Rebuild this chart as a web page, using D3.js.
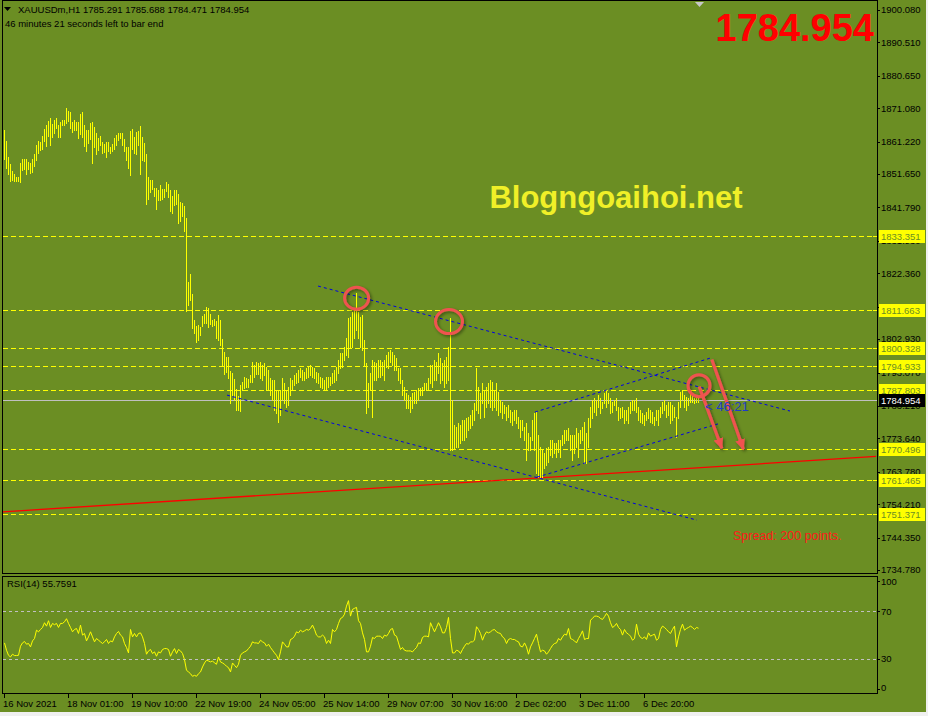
<!DOCTYPE html>
<html><head><meta charset="utf-8">
<script src="https://cdn.jsdelivr.net/npm/d3@7"></script>
<style>body{margin:0;background:#fff;overflow:hidden}svg{display:block}</style>
</head><body><svg id="c" width="928" height="716"></svg>
<script>
// ---------------- DATA ----------------
const highs = [
1864.7,1861.4,1856.7,1854.6,1852.6,1851.7,1850.8,1850.8,1854.9,1856.1,
1856.1,1856.1,1855.2,1854.9,1856.1,1857.5,1860.2,1861.4,1861.1,1862.9,
1864.9,1866.1,1867.3,1868.2,1866.4,1867.6,1868.2,1866.1,1867.0,1867.6,
1867.6,1871.1,1870.3,1870.0,1867.0,1867.6,1867.0,1867.0,1869.4,1870.0,
1866.1,1864.7,1864.7,1866.7,1867.0,1865.6,1863.8,1862.3,1862.9,1861.1,
1860.5,1861.1,1861.1,1859.7,1860.5,1862.3,1863.2,1863.8,1863.8,1863.8,
1862.0,1859.7,1859.7,1864.4,1865.0,1862.6,1864.1,1864.4,1865.9,1862.6,
1860.8,1857.6,1850.8,1849.9,1849.9,1847.6,1847.6,1847.0,1848.5,1847.3,
1847.3,1849.3,1848.7,1847.0,1845.2,1847.0,1847.0,1845.8,1843.4,1843.1,
1842.2,1838.7,1819.8,1822.2,1816.3,1808.6,1806.8,1807.1,1806.5,1809.8,
1810.4,1812.4,1812.1,1810.4,1808.6,1808.9,1808.3,1810.1,1808.6,1803.0,
1799.1,1797.7,1797.7,1793.5,1792.9,1791.2,1788.2,1786.2,1789.4,1790.3,
1791.8,1791.5,1791.2,1792.4,1796.2,1795.3,1796.2,1795.9,1796.2,1795.3,
1795.9,1794.7,1793.8,1791.5,1790.9,1790.9,1787.9,1787.9,1787.9,1791.5,
1790.0,1787.9,1788.8,1791.5,1790.9,1792.4,1792.9,1793.8,1794.4,1793.8,
1793.2,1794.4,1794.7,1795.3,1794.7,1794.4,1793.2,1792.9,1791.8,1791.5,
1790.9,1791.8,1791.8,1791.8,1792.9,1793.8,1794.7,1796.8,1798.8,1798.8,
1800.6,1803.3,1809.2,1809.5,1810.9,1812.1,1816.6,1810.9,1809.5,1810.1,
1802.7,1795.9,1790.0,1792.9,1796.8,1796.2,1795.9,1796.8,1796.8,1796.2,
1796.8,1798.3,1799.1,1799.7,1799.1,1798.3,1797.4,1794.4,1794.4,1790.9,
1788.8,1787.0,1786.5,1785.9,1787.0,1787.3,1787.9,1788.5,1788.5,1788.8,
1790.0,1790.0,1791.5,1795.3,1795.3,1796.8,1796.2,1798.8,1797.4,1795.9,
1796.8,1797.7,1800.6,1809.2,1785.0,1777.6,1777.0,1778.2,1777.6,1779.1,
1779.1,1779.7,1780.0,1780.6,1782.0,1784.1,1794.4,1788.8,1787.0,1790.0,
1787.9,1788.8,1790.0,1790.9,1790.3,1787.9,1790.0,1787.3,1785.0,1784.4,
1783.5,1782.9,1783.5,1782.0,1781.4,1782.0,1782.0,1780.0,1779.1,1779.1,
1777.0,1778.2,1775.2,1774.1,1779.1,1781.1,1781.4,1774.7,1771.1,1770.2,
1769.3,1770.8,1771.1,1773.2,1773.2,1772.3,1772.3,1773.2,1773.2,1774.7,
1776.1,1776.1,1776.7,1774.7,1774.7,1774.7,1776.7,1775.2,1776.1,1777.0,
1778.5,1775.2,1779.7,1782.9,1785.0,1785.6,1785.0,1786.5,1785.6,1784.4,
1787.0,1787.9,1787.0,1785.6,1784.4,1785.0,1785.6,1782.9,1782.6,1782.9,
1782.0,1782.0,1782.9,1784.4,1785.0,1785.0,1785.6,1782.9,1782.0,1781.1,
1780.6,1781.4,1782.6,1782.0,1781.4,1780.0,1782.0,1782.0,1782.9,1784.4,
1785.0,1783.5,1784.4,1784.4,1783.5,1782.9,1780.0,1784.4,1787.3,1787.9,
1786.5,1785.9,1785.6,1787.0,1786.5,1785.6,1785.9,1785.688
];
const lows = [
1856.1,1853.4,1851.7,1849.6,1849.9,1849.6,1849.6,1849.6,1849.3,1852.9,
1853.2,1851.7,1853.2,1852.0,1852.3,1854.0,1855.8,1857.9,1858.8,1859.1,
1861.4,1859.9,1862.9,1860.2,1862.6,1863.8,1865.2,1862.6,1862.6,1866.1,
1866.1,1866.7,1867.3,1865.2,1864.1,1864.7,1864.7,1862.3,1863.5,1862.6,
1859.9,1858.5,1860.8,1862.0,1854.9,1859.7,1857.6,1858.8,1860.2,1857.9,
1858.2,1856.7,1858.5,1857.9,1858.5,1859.1,1860.2,1861.7,1862.3,1860.2,
1858.5,1855.8,1853.4,1851.4,1859.1,1857.9,1857.6,1860.2,1851.7,1855.8,
1855.5,1842.8,1844.3,1846.4,1847.3,1845.2,1841.4,1844.0,1844.0,1844.3,
1844.9,1846.7,1844.9,1840.8,1840.2,1842.5,1842.8,1837.2,1837.8,1839.3,
1834.9,1811.2,1813.0,1814.5,1806.2,1804.7,1802.1,1802.7,1804.2,1806.8,
1807.7,1807.7,1806.5,1807.4,1806.8,1807.1,1803.3,1802.7,1801.2,1795.3,
1792.6,1793.2,1791.5,1784.1,1786.5,1785.0,1782.0,1782.0,1781.7,1787.9,
1788.5,1788.8,1788.8,1790.3,1790.3,1791.8,1792.6,1792.6,1791.5,1790.9,
1792.4,1787.9,1787.9,1786.5,1785.0,1782.0,1781.1,1778.5,1780.6,1785.0,
1784.1,1782.9,1783.5,1786.5,1787.9,1789.4,1790.0,1790.3,1791.8,1790.9,
1790.9,1791.5,1791.8,1792.4,1791.8,1791.5,1790.3,1790.0,1788.8,1788.5,
1787.9,1787.9,1788.8,1789.4,1790.0,1790.3,1790.9,1792.9,1794.4,1794.7,
1796.8,1798.3,1797.7,1800.6,1800.6,1803.3,1805.6,1803.3,1800.6,1799.7,
1795.3,1781.1,1782.9,1787.9,1780.0,1790.9,1790.9,1791.8,1791.8,1792.4,
1790.9,1794.7,1794.4,1796.2,1795.3,1793.8,1793.8,1790.9,1790.0,1786.5,
1785.0,1782.6,1782.6,1781.4,1782.6,1784.1,1784.1,1785.0,1786.5,1786.5,
1787.9,1787.9,1787.9,1790.0,1788.8,1790.9,1790.9,1792.9,1790.0,1790.9,
1788.8,1790.0,1790.9,1770.2,1770.2,1770.8,1771.1,1771.1,1772.3,1773.2,
1773.2,1774.1,1776.1,1776.7,1777.6,1779.1,1782.0,1781.1,1779.7,1784.1,
1780.0,1782.9,1784.1,1782.9,1782.0,1782.9,1782.0,1780.6,1781.4,1779.7,
1781.1,1779.1,1780.0,1778.5,1777.6,1779.1,1778.2,1776.7,1774.1,1776.1,
1773.2,1767.3,1770.2,1770.2,1773.2,1770.2,1763.4,1762.3,1762.0,1762.3,
1764.9,1765.8,1766.7,1768.7,1768.2,1769.3,1768.2,1769.6,1768.2,1771.7,
1772.3,1773.2,1773.2,1770.2,1767.3,1769.3,1771.1,1768.2,1772.3,1773.2,
1766.4,1766.4,1771.1,1777.0,1779.7,1781.4,1780.6,1782.9,1781.1,1782.6,
1784.1,1782.9,1784.1,1781.1,1781.4,1783.5,1782.0,1779.1,1779.7,1780.0,
1778.2,1779.1,1778.2,1781.1,1782.0,1782.0,1781.4,1779.1,1778.5,1778.2,
1777.6,1779.1,1779.7,1778.5,1778.2,1777.6,1779.1,1777.6,1780.0,1781.1,
1782.0,1780.0,1780.6,1778.2,1779.1,1780.0,1774.1,1779.7,1782.9,1785.0,
1782.9,1782.0,1783.5,1784.4,1784.4,1784.1,1784.4,1784.471
];
const rsi = [
43.3,37.1,32.8,31.4,33.7,32.6,32.6,32.8,40.5,43.3,
44.5,42.2,42.8,39.9,45,47,54.1,52.7,54.7,56.4,
60.4,57.5,62.1,56.4,59.8,58.7,59.8,56.4,59.8,59.8,
61.2,63.8,59.8,56.4,52.7,54.7,55.5,51.3,58.4,49.9,
51.3,45,48.4,52.7,48.4,44.2,47,45.6,44.2,42.8,
44.2,46.2,42.8,45,44.2,48.4,51.3,53,49.9,48.4,
42.8,39.4,34.8,54.7,48.4,51.3,48.4,51.3,51.8,48.4,
42.8,33.7,36.5,37.7,34.3,35.7,32,35.7,34.8,37.7,
38.5,38.5,37.7,32,35.7,38.5,34.3,37.7,36.5,34.3,
29.1,20.1,18.7,17.2,15,15.8,15,17.2,18.7,22.9,
26.3,28.6,28,27.2,28,26.3,25.2,31.4,27.2,26.3,
25.2,23.5,22.3,18.7,26.3,24.3,
22.3,25.2,32.8,34.8,35.7,36.5,38.5,40.5,44.2,43.3,
43.3,42.8,45.6,44.2,43.3,40.5,42.2,39.4,37.1,34.8,
32.8,29.1,35.7,44.2,42.2,39.9,39.9,46.2,47,49,
52.7,51.8,54.1,52.7,53.5,54.7,54.1,55.5,58.4,54.7,
49.9,48.4,48.4,49.9,48.4,42.8,45.6,42.8,54.7,52.7,
54.7,59.8,64,64.9,67.7,74.5,79.1,66,71.7,72.6,
73.4,62.1,59.8,51.8,46.2,35.7,35.7,40.5,47.9,47,
49,49,49,47,49.9,49,51.3,54.7,55.5,49.9,
49,43.3,37.7,39.4,37.1,36.5,36.5,36.5,35.7,37.7,
39.4,43.3,42.8,47.9,49,49,48.4,60.4,56.4,52.7,
56.4,60.4,57,51.8,51.8,56.4,64.9,47,34.8,34.8,
37.1,36.5,34.3,37.7,40.5,
42.8,42.2,44.2,44.2,45.6,57,54.7,51.3,45.6,49.9,
52.7,51.8,52.7,54.1,54.7,52.7,51.8,51.3,48.4,47,
42.8,46.2,47,46.2,46.2,45,44.2,40.5,39.9,43.3,
39.9,33.7,39.9,43.3,47,50.7,42.8,35.7,37.1,36.5,
33.7,35.7,38.5,41.3,42.8,43.3,47,45.6,48.4,50.7,
49.9,55.5,47,46.2,45,43.3,47,49.9,53.5,46.2,
47,47,62.6,64,66,66,65.5,64,63.2,65.5,
68.3,66,60.4,56.4,57.5,59.8,56.4,54.7,49.9,54.7,
51.8,50.7,49,45.6,47,59.2,50.7,47.9,47,48.4,
46.2,51.8,49,49.9,50.7,45.6,47,54.7,57.5,56.4,
54.7,52.7,51.3,54.7,57.5,39.9,48.4,54.7,59.2,54.1,
55.5,56.4,57.5,56.4,54.7,56.4,55.7591
];
const priceTicks = [1900.080,1890.510,1880.650,1871.080,1861.220,1851.650,1841.790,1831.930,1822.360,1812.500,1802.930,1793.070,1783.210,1773.640,1763.780,1754.210,1744.350,1734.780];
// tick labels fully covered by a level box in the reference are not drawn as text
const hiddenTickLabels = [1812.500];
const levelLines = [1833.351,1811.663,1800.328,1794.933,1787.803,1770.496,1761.465,1751.371];
const currentPrice = 1784.954;
const ohlc = ["1785.291","1785.688","1784.471","1784.954"];
const timeLabels = ["16 Nov 2021","18 Nov 01:00","19 Nov 10:00","22 Nov 19:00","24 Nov 05:00","25 Nov 14:00","29 Nov 07:00","30 Nov 16:00","2 Dec 02:00","3 Dec 11:00","6 Dec 20:00"];
const timeLabelBars = [0,32,64,96,128,160,192,224,256,288,320];
const rsiTicks = [100,70,30,0];
const rsiLevels = [70,30];
// trend lines: [barIndex, price] endpoints
const redTrend = [[-2,1751.9],[436,1768.3]];
const blueTrends = [
  [[157,1818.6],[393,1781.7]],
  [[111.5,1786.4],[346.5,1749.5]],
  [[265.5,1781.4],[353.5,1797.4]],
  [[266.5,1762.2],[357,1777.9]]
];
const circleMarks = [[176.3,1815.0,12,11],[222.5,1808.1,13.5,12],[347.5,1789.2,11,11]];
const arrowMarks = [[347.6,1788.9,358.9,1770.7],[353.9,1796.9,369.7,1770.4]];

// ---------------- DRAW ----------------
const W=928,H=716,BG='#6B8E23',PR=877;
const svg=d3.select('#c');
const FONT='"Liberation Sans", Arial, sans-serif';
svg.append('rect').attr('width',W).attr('height',H).attr('fill',BG);
svg.append('rect').attr('x',0).attr('y',712).attr('width',W).attr('height',4).attr('fill','#f0f0f0');
svg.append('rect').attr('x',926).attr('y',0).attr('width',2).attr('height',H).attr('fill','#f0f0f0');

const defs=svg.append('defs');
const f=defs.append('filter').attr('id','sh').attr('x','-30%').attr('y','-30%').attr('width','160%').attr('height','160%');
f.append('feDropShadow').attr('dx',1.5).attr('dy',1.5).attr('stdDeviation',1.6).attr('flood-color','#000').attr('flood-opacity',0.45);
defs.append('clipPath').attr('id','cm').append('rect').attr('x',3).attr('y',1).attr('width',PR-3).attr('height',572);
defs.append('marker').attr('id','ah').attr('markerUnits','userSpaceOnUse')
  .attr('markerWidth',12).attr('markerHeight',10).attr('refX',10).attr('refY',5).attr('orient','auto')
  .append('path').attr('d','M0,0 L11,5 L0,10 Z').attr('fill','#ef5350');

const x=d3.scaleLinear().domain([0,347]).range([4,698]);
const y=d3.scaleLinear().domain([1734.78,1900.08]).range([570,10]);
const yr=d3.scaleLinear().domain([0,100]).range([694,576]);
const px=v=>Math.round(v)+0.5;

const main=svg.append('g').attr('clip-path','url(#cm)');
main.selectAll('.lv').data(levelLines).join('line')
  .attr('x1',3).attr('x2',PR).attr('y1',d=>px(y(d))).attr('y2',d=>px(y(d)))
  .attr('stroke','#ffff00').attr('stroke-dasharray','5,3').attr('shape-rendering','crispEdges');
main.append('line').attr('x1',3).attr('x2',PR).attr('y1',px(y(currentPrice))).attr('y2',px(y(currentPrice)))
  .attr('stroke','#c0c0c0').attr('shape-rendering','crispEdges');
main.append('line').attr('x1',x(redTrend[0][0])).attr('y1',y(redTrend[0][1])).attr('x2',x(redTrend[1][0])).attr('y2',y(redTrend[1][1]))
  .attr('stroke','#ff0000').attr('stroke-width',1.3);
main.selectAll('.bar').data(highs).join('line')
  .attr('x1',(d,i)=>px(x(i))).attr('x2',(d,i)=>px(x(i)))
  .attr('y1',d=>Math.round(y(d))).attr('y2',(d,i)=>Math.max(Math.round(y(lows[i])),Math.round(y(d))+1)+1)
  .attr('stroke','#ffff00').attr('shape-rendering','crispEdges');
main.selectAll('.bt').data(blueTrends).join('line')
  .attr('x1',d=>x(d[0][0])).attr('y1',d=>y(d[0][1])).attr('x2',d=>x(d[1][0])).attr('y2',d=>y(d[1][1]))
  .attr('stroke','#0000e6').attr('stroke-width',1).attr('stroke-dasharray','3,3');
const ann=svg.append('g').attr('filter','url(#sh)');
ann.selectAll('ellipse').data(circleMarks).join('ellipse')
  .attr('cx',d=>x(d[0])).attr('cy',d=>y(d[1])).attr('rx',d=>d[2]).attr('ry',d=>d[3])
  .attr('fill','none').attr('stroke','#ef5350').attr('stroke-width',3);
ann.selectAll('.ar').data(arrowMarks).join('line')
  .attr('x1',d=>x(d[0])).attr('y1',d=>y(d[1])).attr('x2',d=>x(d[2])).attr('y2',d=>y(d[3]))
  .attr('stroke','#ef5350').attr('stroke-width',3.2).attr('marker-end','url(#ah)');

svg.append('text').attr('x',705).attr('y',411).attr('font-family',FONT).attr('font-size',13)
  .attr('fill','#1f3cc8').text('< 46:21');
svg.append('text').attr('x',733).attr('y',540).attr('font-family',FONT).attr('font-size',12.5)
  .attr('fill','#ff1a1a').text('Spread: 200 points.');
svg.append('text').attr('x',616).attr('y',208).attr('text-anchor','middle').attr('font-family',FONT)
  .attr('font-weight','bold').attr('font-size',31).attr('fill','#f0f028').text('Blogngoaihoi.net');
svg.append('text').attr('x',874).attr('y',41).attr('text-anchor','end').attr('font-family',FONT)
  .attr('font-weight','bold').attr('font-size',38).attr('fill','#ff0000').text(currentPrice.toFixed(3));

svg.append('path').attr('d','M4,7 L11,7 L7.5,11 Z').attr('fill','#000');
svg.append('text').attr('x',18).attr('y',13).attr('font-family',FONT).attr('font-size',9.5).attr('fill','#000')
  .text('XAUUSDm,H1  '+ohlc.join(' '));
svg.append('text').attr('x',5).attr('y',27).attr('font-family',FONT).attr('font-size',9.5).attr('fill','#000')
  .text('46 minutes 21 seconds left to bar end');
svg.append('path').attr('d','M695,2 L704,2 L699.5,7 Z').attr('fill','#c8c8c8');

svg.append('rect').attr('x',2.5).attr('y',0.5).attr('width',PR-2.5).attr('height',573).attr('fill','none').attr('stroke','#000').attr('shape-rendering','crispEdges');
svg.append('rect').attr('x',2.5).attr('y',576.5).attr('width',PR-2.5).attr('height',117).attr('fill','none').attr('stroke','#000').attr('shape-rendering','crispEdges');

const pa=svg.append('g');
pa.selectAll('.tk').data(priceTicks).join('line').attr('x1',PR).attr('x2',PR+3)
  .attr('y1',d=>px(y(d))).attr('y2',d=>px(y(d))).attr('stroke','#000').attr('shape-rendering','crispEdges');
pa.selectAll('.tl').data(priceTicks.filter(d=>!hiddenTickLabels.includes(d))).join('text').attr('x',881).attr('y',d=>y(d)).attr('dy','0.35em')
  .attr('font-family',FONT).attr('font-size',9.5).attr('fill','#000').text(d=>d.toFixed(3));
const lb=svg.append('g');
levelLines.forEach(v=>{
  const yy=Math.round(y(v));
  lb.append('line').attr('x1',PR-4).attr('x2',PR).attr('y1',yy+0.5).attr('y2',yy+0.5).attr('stroke','#ffff00');
  lb.append('rect').attr('x',879).attr('y',yy-6).attr('width',46).attr('height',13).attr('fill','#ffff00');
  lb.append('text').attr('x',881).attr('y',yy+0.5).attr('dy','0.35em').attr('font-family',FONT).attr('font-size',9.5)
    .attr('fill',BG).text(v.toFixed(3));
});
{
  const yy=Math.round(y(currentPrice));
  lb.append('rect').attr('x',879).attr('y',yy-6).attr('width',46).attr('height',13).attr('fill','#000');
  lb.append('text').attr('x',881).attr('y',yy+0.5).attr('dy','0.35em').attr('font-family',FONT).attr('font-size',9.5)
    .attr('fill','#fff').text(currentPrice.toFixed(3));
}

const rp=svg.append('g');
rp.selectAll('.rl').data(rsiLevels).join('line').attr('x1',3).attr('x2',PR)
  .attr('y1',d=>px(yr(d))).attr('y2',d=>px(yr(d))).attr('stroke','#c0c0c0').attr('stroke-dasharray','3,3').attr('shape-rendering','crispEdges');
rp.append('path').datum(rsi).attr('d',d3.line().x((d,i)=>px(x(i))).y(d=>yr(d)))
  .attr('fill','none').attr('stroke','#ffff00').attr('stroke-width',1);
rp.append('text').attr('x',7).attr('y',587).attr('font-family',FONT).attr('font-size',9.5).attr('fill','#000')
  .text('RSI(14) '+rsi[rsi.length-1].toFixed(4));
rp.selectAll('.rt').data(rsiTicks).join('line').attr('x1',PR).attr('x2',PR+3)
  .attr('y1',d=>px(Math.min(Math.max(yr(d),581),689))).attr('y2',d=>px(Math.min(Math.max(yr(d),581),689))).attr('stroke','#000');
rp.selectAll('.rtl').data(rsiTicks).join('text').attr('x',881).attr('y',d=>Math.min(Math.max(yr(d),582),688)).attr('dy','0.35em')
  .attr('font-family',FONT).attr('font-size',9.5).attr('fill','#000').text(d=>d);

const ta=svg.append('g');
ta.selectAll('.tt').data(timeLabelBars).join('line').attr('x1',d=>px(x(d))).attr('x2',d=>px(x(d)))
  .attr('y1',694).attr('y2',698).attr('stroke','#000').attr('shape-rendering','crispEdges');
ta.selectAll('.ttl').data(timeLabelBars).join('text').attr('x',d=>x(d)-1).attr('y',707)
  .attr('font-family',FONT).attr('font-size',9.5).attr('fill','#000').text((d,i)=>timeLabels[i]);
</script></body></html>
